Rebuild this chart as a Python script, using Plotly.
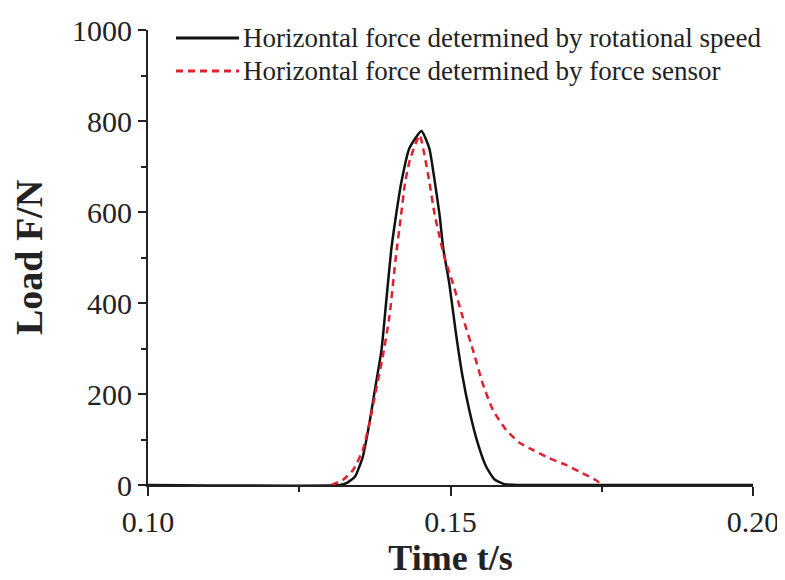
import plotly.graph_objects as go

# Horizontal force determined by rotational speed (black solid)
t_speed = [0.100, 0.1317, 0.1328, 0.1342, 0.1355, 0.1366, 0.1375, 0.1386, 0.1394, 0.1402,
           0.1410, 0.1419, 0.1432, 0.1452, 0.1465, 0.1474, 0.1482, 0.1488, 0.1498,
           0.1509, 0.1520, 0.1531, 0.1545, 0.1559, 0.1573, 0.1589, 0.1612, 0.2000]
f_speed = [0, 0, 4, 18, 62, 136, 209, 297, 407, 516,
           593, 667, 740, 778, 740, 667, 593, 520, 443,
           333, 238, 165, 92, 40, 12, 2, 0, 0]

# Horizontal force determined by force sensor (red dashed)
t_sensor = [0.1303, 0.1322, 0.1339, 0.1355, 0.1366, 0.1377, 0.1388, 0.1399, 0.1410, 0.1418,
            0.1425, 0.1433, 0.1449, 0.1457, 0.1465, 0.1474, 0.1482, 0.1490, 0.1504,
            0.1520, 0.1537, 0.1553, 0.1570, 0.1592, 0.1614, 0.1636, 0.1663, 0.1691,
            0.1718, 0.1740, 0.1751]
f_sensor = [0, 11, 33, 77, 136, 209, 282, 370, 505, 590,
            665, 715, 769, 725, 667, 593, 545, 500, 443,
            370, 297, 224, 165, 121, 93, 77, 59, 44,
            26, 11, 0]

series_names = ["Horizontal force determined by rotational speed",
                "Horizontal force determined by force sensor"]
series_colors = ["#111111", "#e0202e"]
series_dash = ["solid", "7px,5px"]

x_ticks = [0.10, 0.15, 0.20]
x_ticklabels = ["0.10", "0.15", "0.20"]
y_ticks = [0, 200, 400, 600, 800, 1000]

FONT = "Liberation Serif, Times New Roman, serif"
TXT = "#222222"

# the page body adds an 8px offset; plot area targets (in screenshot px):
# left 148, right 753, top 30, bottom 485
OFF = 8
W, H = 785, 580
ML, MT = 148 - OFF, 30 - OFF
MR, MB = W - (753 - OFF), H - (485 - OFF)
PW, PH = W - ML - MR, H - MT - MB


def px_x(px):
    return (px - OFF - ML) / PW


def px_y(py):
    return (H - MB - (py - OFF)) / PH


fig = go.Figure()
for t, f, name, col, dash in zip([t_speed, t_sensor], [f_speed, f_sensor],
                                 series_names, series_colors, series_dash):
    fig.add_trace(go.Scatter(
        x=t, y=f, mode="lines", name=name, showlegend=False,
        line=dict(color=col, width=2.5, dash=dash, shape="spline", smoothing=0.5),
    ))

# Legend drawn as line samples + text (long samples like the reference)
legend_rows_y = [38, 71]
for ry, name, col, dash in zip(legend_rows_y, series_names, series_colors, series_dash):
    fig.add_shape(type="line", xref="paper", yref="paper",
                  x0=px_x(176), x1=px_x(239), y0=px_y(ry), y1=px_y(ry),
                  line=dict(color=col, width=3, dash=dash))
    fig.add_annotation(xref="paper", yref="paper", x=px_x(241), y=px_y(ry),
                       xanchor="left", yanchor="middle", showarrow=False,
                       text=name, font=dict(family=FONT, size=27, color=TXT))

fig.update_layout(
    width=W, height=H,
    margin=dict(l=ML, r=MR, t=MT, b=MB, autoexpand=False),
    paper_bgcolor="white", plot_bgcolor="white",
    font=dict(family=FONT, color=TXT, size=30),
    showlegend=False,
)

fig.update_xaxes(
    range=[0.1, 0.2], automargin=False,
    tickvals=x_ticks, ticktext=x_ticklabels,
    showline=True, linecolor=TXT, linewidth=2,
    ticks="outside", ticklen=9, tickwidth=2, tickcolor=TXT,
    minor=dict(dtick=0.025, tick0=0.1, ticks="outside", ticklen=5, tickwidth=2, tickcolor=TXT),
    showgrid=False, zeroline=False,
    tickfont=dict(size=30),
    title=dict(text="<b>Time t/s</b>", font=dict(size=36), standoff=8),
)
fig.update_yaxes(
    range=[0, 1000], automargin=False,
    tickvals=y_ticks,
    showline=True, linecolor=TXT, linewidth=2,
    ticks="outside", ticklen=8, tickwidth=2, tickcolor=TXT,
    minor=dict(dtick=100, tick0=0, ticks="outside", ticklen=5, tickwidth=2, tickcolor=TXT),
    showgrid=False, zeroline=False,
    tickfont=dict(size=30),
    title=dict(text="<b>Load F/N</b>", font=dict(size=38), standoff=24),
)

fig.write_html("out.html")
